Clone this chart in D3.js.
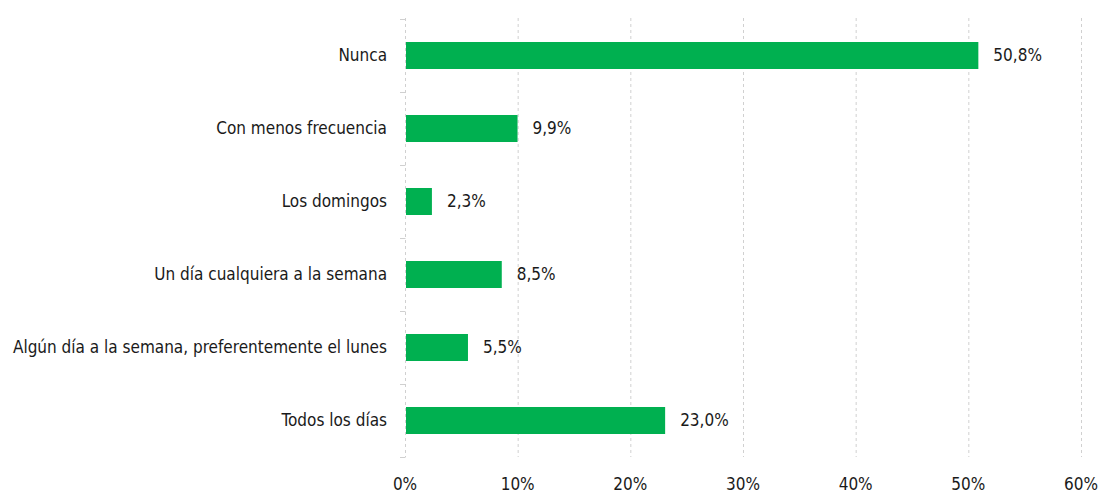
<!DOCTYPE html>
<html>
<head>
<meta charset="utf-8">
<script src="https://cdn.jsdelivr.net/npm/d3@7"></script>
<style>
  body { margin: 0; background: #fff; }
  text { font-family: "Liberation Sans Narrow", "Arial Narrow", "DejaVu Sans Condensed", sans-serif; fill: #1a1a1a; }
</style>
</head>
<body>
<script>
var categories = ["Nunca", "Con menos frecuencia", "Los domingos", "Un día cualquiera a la semana",
    "Algún día a la semana, preferentemente el lunes", "Todos los días"];
var values = [50.8, 9.9, 2.3, 8.5, 5.5, 23.0];
var xTicks = [0, 10, 20, 30, 40, 50, 60];

var width = 1100, height = 495;
var margin = {top: 19, right: 19, bottom: 38, left: 405};
var innerW = width - margin.left - margin.right;
var innerH = height - margin.top - margin.bottom;

var svg = d3.select("body").append("svg")
    .attr("width", width)
    .attr("height", height);

var g = svg.append("g")
    .attr("transform", "translate(" + margin.left + "," + margin.top + ")");

var xScale = d3.scaleLinear().domain([0, 60]).range([0, innerW]);
var yScale = d3.scaleBand().domain(categories).range([0, innerH]).paddingInner(0.63).paddingOuter(0.315);
var bandStep = innerH / categories.length;

// gridlines
g.selectAll("line.grid")
    .data(xTicks)
    .enter()
    .append("line")
        .attr("class", "grid")
        .attr("x1", function(d){ return xScale(d) + 0.5; })
        .attr("x2", function(d){ return xScale(d) + 0.5; })
        .attr("y1", -1)
        .attr("y2", innerH)
        .attr("stroke", "#d0d0d0")
        .attr("stroke-dasharray", "3,3");

// category tick marks on left axis
g.selectAll("line.ytick")
    .data(d3.range(categories.length + 1))
    .enter()
    .append("line")
        .attr("x1", -5).attr("x2", 0.5)
        .attr("y1", function(i){ return i * bandStep + 0.5; })
        .attr("y2", function(i){ return i * bandStep + 0.5; })
        .attr("stroke", "#d0d0d0");

g.selectAll("rect")
    .data(values)
    .enter()
    .append("rect")
        .attr("x", xScale(0) + 1)
        .attr("y", function(d, i){ return yScale(categories[i]); })
        .attr("width", function(d){ return xScale(d) - xScale(0); })
        .attr("height", yScale.bandwidth())
        .attr("fill", "#00b050");

g.selectAll("text.val")
    .data(values)
    .enter()
    .append("text")
        .attr("class", "val")
        .attr("x", function(d){ return xScale(d) + 16; })
        .attr("y", function(d, i){ return yScale(categories[i]) + yScale.bandwidth() / 2; })
        .attr("dy", "0.35em")
        .style("font-size", "17px")
        .text(function(d){ return d.toFixed(1).replace(".", ",") + "%"; });

g.selectAll("text.cat")
    .data(categories)
    .enter()
    .append("text")
        .attr("class", "cat")
        .attr("x", -18)
        .attr("y", function(d){ return yScale(d) + yScale.bandwidth() / 2; })
        .attr("dy", "0.35em")
        .attr("text-anchor", "end")
        .style("font-size", "17px")
        .text(function(d){ return d; });

g.selectAll("text.xt")
    .data(xTicks)
    .enter()
    .append("text")
        .attr("class", "xt")
        .attr("x", function(d){ return xScale(d); })
        .attr("y", innerH + 33)
        .attr("text-anchor", "middle")
        .style("font-size", "17px")
        .text(function(d){ return d + "%"; });
</script>
</body>
</html>
